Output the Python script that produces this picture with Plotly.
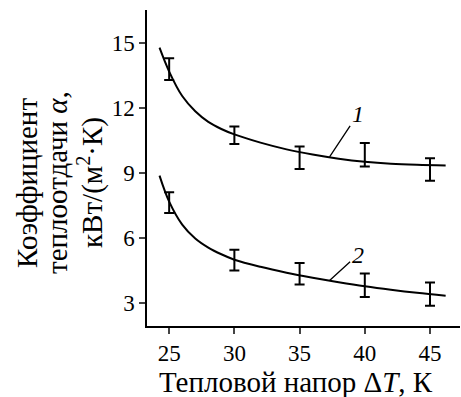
import plotly.graph_objects as go

# Data
dT = [25, 30, 35, 40, 45]
alpha1 = [13.79, 10.74, 9.70, 9.84, 9.16]
err1 = [0.50, 0.40, 0.52, 0.54, 0.52]
alpha2 = [7.63, 4.98, 4.35, 3.82, 3.41]
err2 = [0.48, 0.48, 0.50, 0.54, 0.54]

fit_x = [24.26, 25, 26, 27, 28, 29, 30, 32, 34, 36, 38, 40, 42, 44, 46.2]
fit1_y = [14.78, 13.68, 12.55, 11.85, 11.36, 11.03, 10.78, 10.40, 10.09, 9.85, 9.66, 9.52, 9.43, 9.38, 9.35]
fit2_y = [8.88, 7.68, 6.62, 5.98, 5.56, 5.25, 5.00, 4.67, 4.40, 4.17, 3.96, 3.77, 3.61, 3.47, 3.34]

x_ticks = [25, 30, 35, 40, 45]
y_ticks = [3, 6, 9, 12, 15]

x_title = "Тепловой напор Δ<i>T</i>, К"
y_title_lines = ["Коэффициент", "теплоотдачи <i>α</i>,", "кВт/(м<sup>2</sup>·К)"]
curve_labels = ["1", "2"]

FONT = "'Liberation Serif', 'Times New Roman', Times, 'DejaVu Serif', serif"

fig = go.Figure()
for fy in (fit1_y, fit2_y):
    fig.add_trace(go.Scatter(x=fit_x, y=fy, mode="lines",
                             line=dict(color="black", width=2, shape="spline", smoothing=1.0),
                             showlegend=False, hoverinfo="skip"))
for ay, ae in ((alpha1, err1), (alpha2, err2)):
    fig.add_trace(go.Scatter(x=dT, y=ay, mode="markers",
                             marker=dict(size=1, color="rgba(0,0,0,0)"),
                             error_y=dict(type="data", array=ae, visible=True,
                                          color="black", thickness=2, width=5),
                             showlegend=False))

for (px, py, tx, ty), lab in zip(((37.3, 9.74, 39.45, 11.7), (37.3, 4.04, 39.45, 5.22)), curve_labels):
    fig.add_annotation(x=px, y=py, ax=tx, ay=ty, axref="x", ayref="y",
                       text="<i>%s</i>" % lab, showarrow=True, arrowhead=0,
                       arrowwidth=1.3, arrowcolor="black",
                       font=dict(family=FONT, size=24, color="black"))

# axis titles as annotations (tight line spacing like the reference)
fig.add_annotation(xref="paper", yref="paper", x=0.4776, y=0, yshift=-56,
                   xanchor="center", yanchor="middle", showarrow=False,
                   text=x_title, font=dict(family=FONT, size=29, color="black"))
for i, shift in enumerate([-120, -90, -57]):
    fig.add_annotation(xref="paper", yref="paper", x=0, y=0.4525, xshift=shift,
                       xanchor="center", yanchor="middle", showarrow=False, textangle=-90,
                       text=y_title_lines[i], font=dict(family=FONT, size=29, color="black"))

fig.update_layout(
    width=461, height=397,
    margin=dict(l=147, r=1, t=10, b=71),
    paper_bgcolor="white", plot_bgcolor="white",
    font=dict(family=FONT, size=22, color="black"),
)
fig.update_xaxes(range=[23.3, 47.3], tickvals=x_ticks, ticks="outside", ticklen=6,
                 tickwidth=1.5, showline=True, linecolor="black", linewidth=1.5,
                 showgrid=False, zeroline=False, automargin=False,
                 tickfont=dict(family=FONT, size=23))
fig.update_yaxes(range=[1.94, 16.52], tickvals=y_ticks, ticks="outside", ticklen=6,
                 tickwidth=1.5, showline=True, linecolor="black", linewidth=1.5,
                 showgrid=False, zeroline=False, automargin=False,
                 tickfont=dict(family=FONT, size=23))

fig.write_html("out.html", config={"displayModeBar": False},
               post_script="document.body.style.margin='0';document.body.style.padding='0';")
